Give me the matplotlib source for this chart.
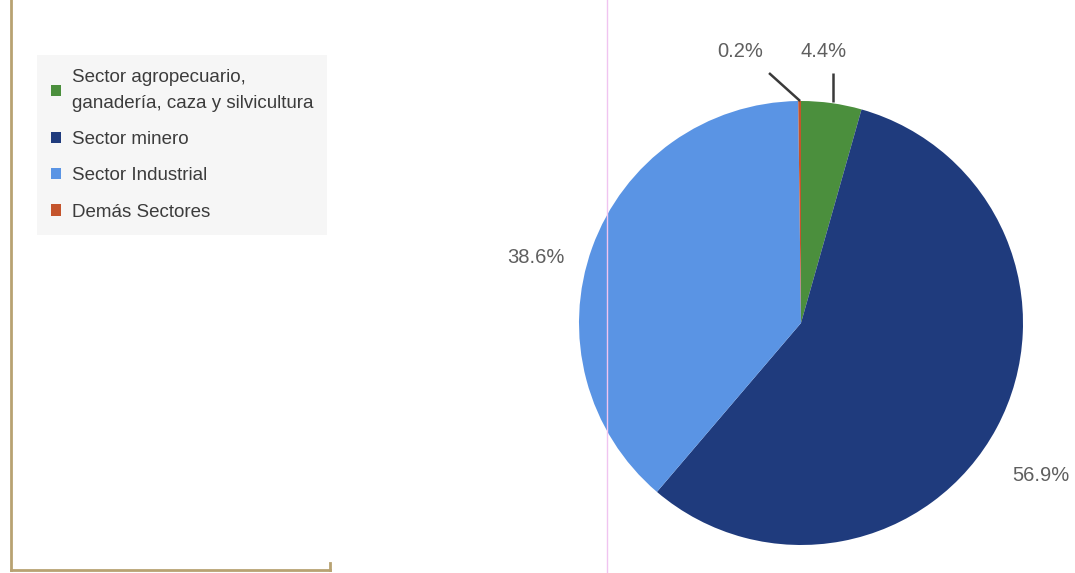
import matplotlib
matplotlib.use("Agg")
import matplotlib.pyplot as plt
from matplotlib.patches import Patch
from matplotlib.lines import Line2D

sectors = ["Sector agropecuario,\nganadería, caza y silvicultura",
           "Sector minero", "Sector Industrial", "Demás Sectores"]
shares = [4.4, 56.9, 38.6, 0.2]
share_labels = ["4.4%", "56.9%", "38.6%", "0.2%"]
colors = ["#4b8f3d", "#1f3b7d", "#5a94e4", "#c4542c"]

plt.rcParams["font.family"] = ["Liberation Sans", "DejaVu Sans"]

W, H = 1075, 573
fig = plt.figure(figsize=(W / 100, H / 100), dpi=100)
fig.patch.set_facecolor("white")

# pie axes: centre (801, 323) px from the top, radius 222 px
cx, cy, R = 801, H - 323, 222
span = 1.5
ax = fig.add_axes([(cx - R * span) / W, (cy - R * span) / H,
                   2 * R * span / W, 2 * R * span / H])

wedges, _ = ax.pie(shares, colors=colors, startangle=90, counterclock=False,
                   radius=1.0, wedgeprops=dict(linewidth=0))
ax.set_xlim(-span, span)
ax.set_ylim(-span, span)
ax.set_aspect("auto")
ax.axis("off")

# label placement (pie units) and leader lines for the thin slices
label_pos = {0: (0.10, 1.225), 1: (1.08, -0.685), 2: (-1.195, 0.295), 3: (-0.275, 1.225)}
leaders = {0: [(0.144, 1.126), (0.144, 0.995)],
           3: [(-0.144, 1.126), (-0.004, 1.0)]}
for i, lab in enumerate(share_labels):
    x, y = label_pos[i]
    ax.text(x, y, lab, ha="center", va="center", fontsize=14.5, color="#5f5f5f",
            clip_on=False)
    if i in leaders:
        (x0, y0), (x1, y1) = leaders[i]
        ax.plot([x0, x1], [y0, y1], color="#3a3a3a", lw=1.8, clip_on=False,
                solid_capstyle="butt")

# legend
handles = [Patch(facecolor=c, edgecolor="none") for c in colors]
leg = fig.legend(handles, sectors, loc="upper left",
                 bbox_to_anchor=(37 / W, 1 - 55 / H), borderaxespad=0,
                 frameon=True, fancybox=False, fontsize=13.5,
                 handlelength=0.55, handleheight=0.55, handletextpad=0.55,
                 labelspacing=1.02, borderpad=0.75, labelcolor="#3c3c3c")
leg.get_frame().set_facecolor("#f4f4f4")
leg.get_frame().set_edgecolor("none")
for t in leg.get_texts():
    t.set_linespacing(1.7)

# frame lines around the left panel and the faint divider
tan = "#b8a272"
fig.add_artist(Line2D([11 / W, 11 / W], [1 - 570 / H, 1.0], color=tan, lw=2,
                      transform=fig.transFigure))
fig.add_artist(Line2D([11 / W, 330 / W], [1 - 570 / H, 1 - 570 / H], color=tan,
                      lw=2, transform=fig.transFigure))
fig.add_artist(Line2D([330 / W, 330 / W], [1 - 570 / H, 1 - 563 / H], color=tan,
                      lw=2, transform=fig.transFigure))
fig.add_artist(Line2D([607 / W, 607 / W], [0, 1], color="#f0c4f0", lw=1,
                      transform=fig.transFigure, zorder=5))

fig.savefig("out.png", dpi=100)
